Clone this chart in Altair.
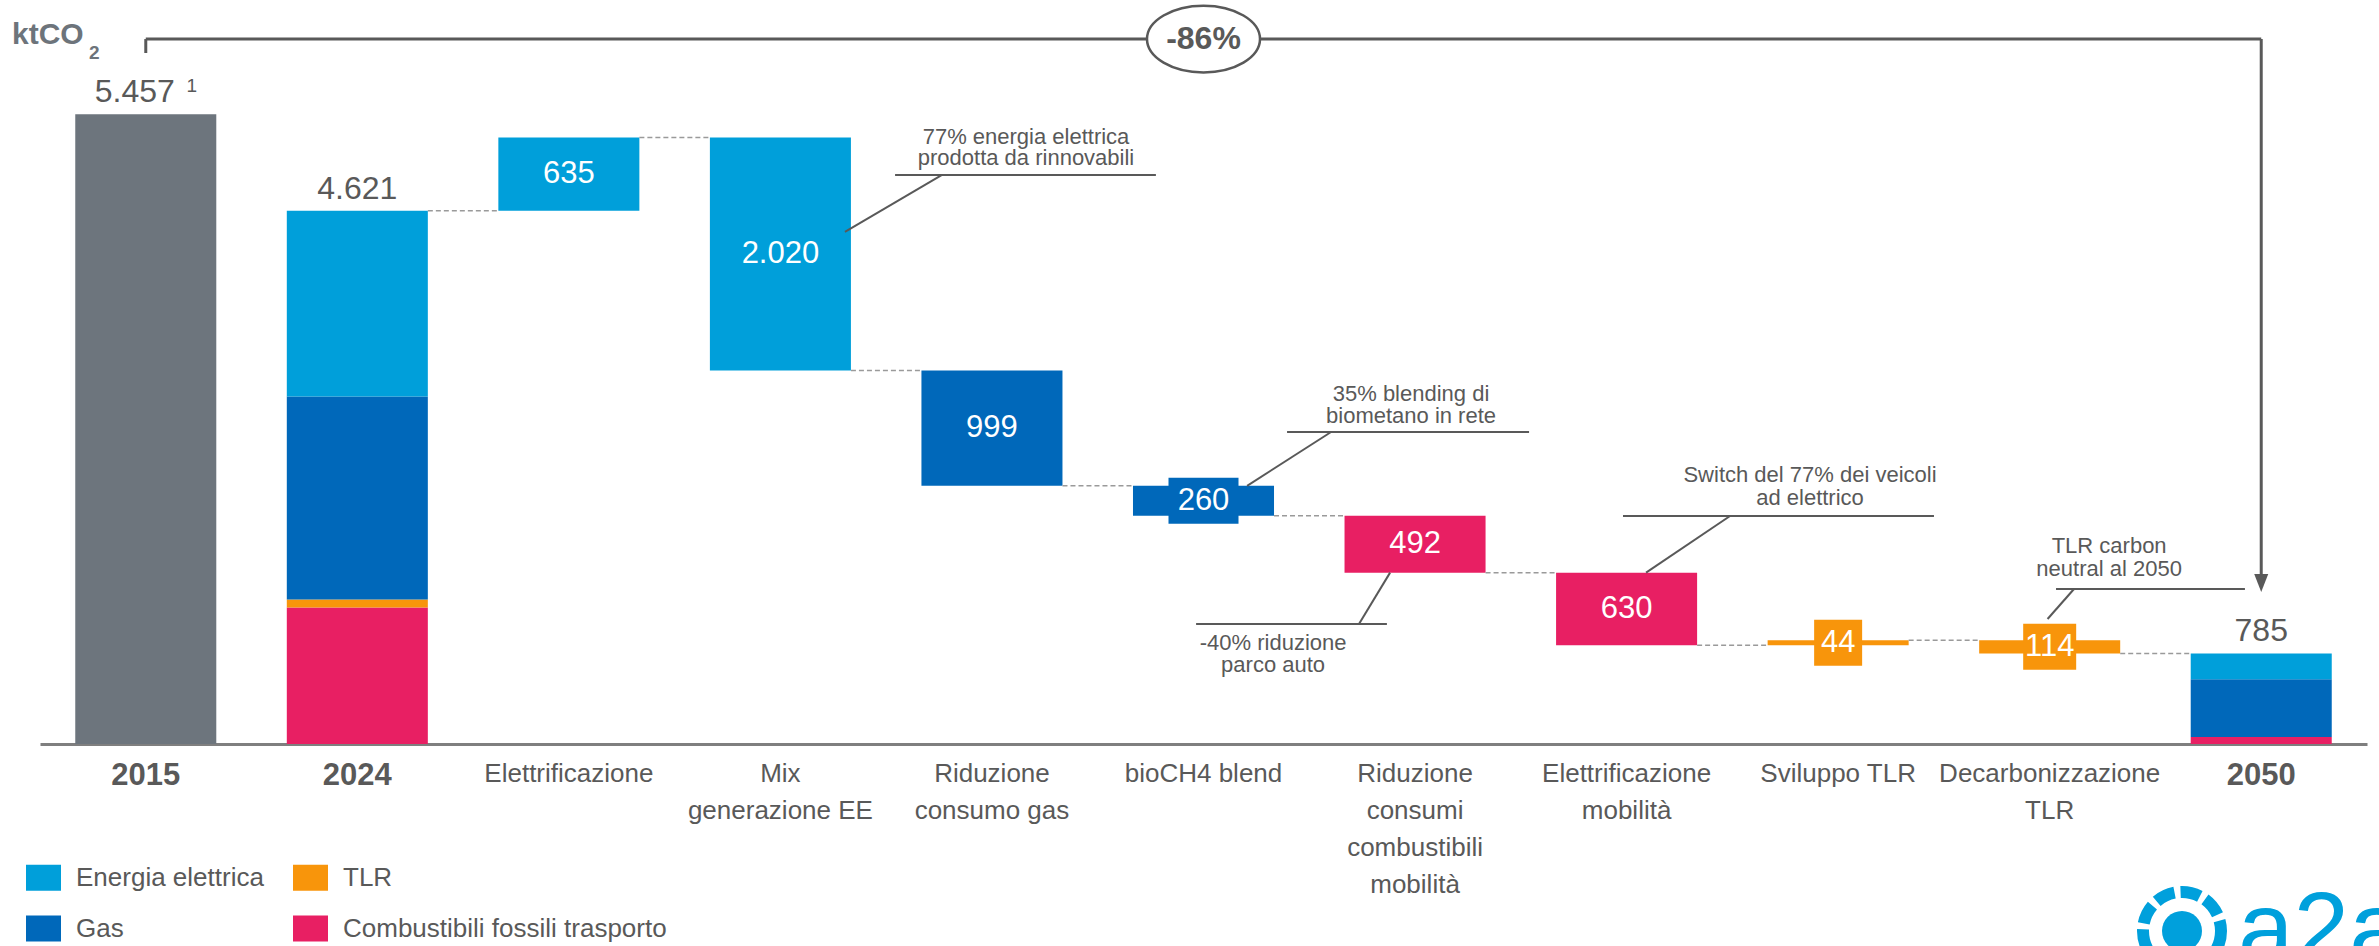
import altair as alt
import pandas as pd

FONT = "Liberation Sans"
GREY_TXT = "#595959"

# ---------------- data ----------------
categories = ["2015", "2024", "Elettrificazione", "Mix|generazione EE", "Riduzione|consumo gas",
              "bioCH4 blend", "Riduzione|consumi|combustibili|mobilità", "Elettrificazione|mobilità",
              "Sviluppo TLR", "Decarbonizzazione|TLR", "2050"]
series = ["Energia elettrica", "Gas", "TLR", "Combustibili fossili trasporto"]
stack_order = ["Combustibili fossili trasporto", "TLR", "Gas", "Energia elettrica"]  # bottom -> top
total_2015 = 5457
comp_2024 = [1609, 1760, 70, 1182]   # same order as `series`
comp_2050 = [224, 501, 0, 60]
step_values = [635, -2020, -999, -260, -492, -630, 44, -114]
step_series = ["Energia elettrica", "Energia elettrica", "Gas", "Gas",
               "Combustibili fossili trasporto", "Combustibili fossili trasporto", "TLR", "TLR"]
boxed_steps = ["bioCH4 blend", "Sviluppo TLR", "Decarbonizzazione|TLR"]
note_texts = [["77% energia elettrica", "prodotta da rinnovabili"],
              ["35% blending  di", "biometano in rete"],
              ["-40% riduzione", "parco auto"],
              ["Switch del 77% dei veicoli", "ad elettrico"],
              ["TLR carbon", "neutral al 2050"]]
reduction_text = "-86%"

# ---------------- styles / layout ----------------
colors = {"Energia elettrica": "#009FDA", "Gas": "#0068BA", "TLR": "#F8950B",
          "Combustibili fossili trasporto": "#E81F63", "Totale 2015": "#6D757D"}
W, H = 2327, 727
YMAX = 6300
HALF = 1 / 3          # half bar width in category-slot units
box_width = {"bioCH4 blend": 70, "Sviluppo TLR": 48, "Decarbonizzazione|TLR": 53}
# annotation layout (slot units on x, value units on y)
note_layout = [
    dict(x=4.661, y=[5260, 5078], under=(4.042, 5.275, 4931), lead=(4.264, 4931, 3.805, 4437)),
    dict(x=6.481, y=[3033, 2842], under=(5.895, 7.039, 2704), lead=(6.103, 2704, 5.706, 2237)),
    dict(x=5.829, y=[875, 685], under=(5.465, 6.367, 1040), lead=(6.235, 1040, 6.382, 1485)),
    dict(x=8.367, y=[2331, 2132], under=(7.483, 8.953, 1976), lead=(7.989, 1976, 7.592, 1485)),
    dict(x=9.781, y=[1716, 1516], under=(9.530, 10.423, 1343), lead=(9.615, 1343, 9.49, 1083)),
]
BRACKET_Y = 6109


def fmt(v):
    return f"{abs(v):,}".replace(",", ".")


# ---------------- build tables ----------------
bars = [dict(cat="2015", y0=0, y1=total_2015, s="Totale 2015")]


def stack(cat, comp):
    vals = dict(zip(series, comp))
    base = 0
    for s in stack_order:
        v = vals[s]
        if v > 0:
            bars.append(dict(cat=cat, y0=base, y1=base + v, s=s))
        base += v
    return base


t24 = stack("2024", comp_2024)
run = t24
levels = [t24]
vlabels = []
for cat, d, s in zip(categories[2:10], step_values, step_series):
    new = run + d
    bars.append(dict(cat=cat, y0=min(run, new), y1=max(run, new), s=s))
    vlabels.append(dict(cat=cat, mid=(run + new) / 2, t=fmt(d)))
    run = new
    levels.append(run)
t50 = stack("2050", comp_2050)

bars_df = pd.DataFrame(bars)
vlab_df = pd.DataFrame(vlabels)
totals_df = pd.DataFrame([dict(cat="2015", top=total_2015, t=fmt(total_2015)),
                          dict(cat="2024", top=t24, t=fmt(t24)),
                          dict(cat="2050", top=t50, t=fmt(t50))])
conn_df = pd.DataFrame([dict(x=i + 1.5 + HALF, x2=i + 2.5 - HALF, y=L) for i, L in enumerate(levels)])

ann_lines = []
ann_txt = []
for lay, txt in zip(note_layout, note_texts):
    ux0, ux1, uy = lay["under"]
    ann_lines.append(dict(x=ux0, x2=ux1, y=uy, y2=uy))
    lx0, ly0, lx1, ly1 = lay["lead"]
    ann_lines.append(dict(x=lx0, x2=lx1, y=ly0, y2=ly1))
    for line, yy in zip(txt, lay["y"]):
        ann_txt.append(dict(x=lay["x"], y=yy, t=line))
ann_lines_df = pd.DataFrame(ann_lines)
ann_txt_df = pd.DataFrame(ann_txt)

x_left, x_right = 0.5, 10.5
bracket_df = pd.DataFrame([
    dict(x=x_left, x2=x_right, y=BRACKET_Y, y2=BRACKET_Y),
    dict(x=x_left, x2=x_left, y=BRACKET_Y, y2=5988),
    dict(x=x_right, x2=x_right, y=BRACKET_Y, y2=1470),
])
arrow_df = pd.DataFrame([dict(x=x_right, y=1395)])
ell_df = pd.DataFrame([dict(x=5.5, y=BRACKET_Y, t=reduction_text)])
one = pd.DataFrame({"a": [0]})

# ---------------- encodings ----------------
yscale = alt.Scale(domain=[0, YMAX], nice=False, zero=True)
year_test = "indexof(['2015','2024','2050'], datum.value) >= 0"
x_nom = alt.X(
    "cat:N",
    scale=alt.Scale(domain=categories, paddingInner=1 / 3, paddingOuter=1 / 6),
    title=None,
    axis=alt.Axis(
        labelAngle=0, ticks=False, tickSize=0, domainColor="#7F7F7F", domainWidth=3,
        labelFont=FONT, labelColor=GREY_TXT, labelPadding=16, labelLineHeight=37,
        labelFontSize={"condition": {"test": year_test, "value": 31}, "value": 26},
        labelFontWeight={"condition": {"test": year_test, "value": "bold"}, "value": "normal"},
        labelExpr="split(datum.label, '|')", labelLimit=500, labelOverlap=False,
        labelBaseline="top",
    ),
)
xq = alt.Scale(domain=[0, 11], nice=False, zero=False)

# legend fills column by column: [EE, Gas] in column 1, [TLR, Combustibili] in column 2
bar_layer = alt.Chart(bars_df).mark_bar().encode(
    x=x_nom,
    y=alt.Y("y0:Q", scale=yscale, axis=None),
    y2="y1:Q",
    color=alt.Color(
        "s:N",
        scale=alt.Scale(domain=list(colors.keys()), range=list(colors.values())),
        legend=alt.Legend(
            values=series, title=None, orient="none", legendX=-14, legendY=843,
            direction="vertical", columns=2, columnPadding=29, rowPadding=20, padding=0,
            symbolType="M-1,-0.74H1V0.74H-1Z", symbolSize=1225, symbolStrokeWidth=0,
            symbolOpacity=1, labelFont=FONT, labelFontSize=26, labelColor=GREY_TXT,
            labelOffset=15, labelLimit=600,
        ),
    ),
)

box_layers = []
for cat in boxed_steps:
    box_layers.append(
        alt.Chart(vlab_df).transform_filter(alt.datum.cat == cat)
        .mark_bar(width=box_width[cat], yOffset=-23, y2Offset=23)
        .encode(x=x_nom, y=alt.Y("mid:Q", scale=yscale, axis=None), y2="mid:Q",
                color=alt.value(colors[step_series[categories.index(cat) - 2]]))
    )

vtext = alt.Chart(vlab_df).mark_text(font=FONT, fontSize=31, color="white", baseline="middle").encode(
    x=x_nom, y=alt.Y("mid:Q", scale=yscale, axis=None), text="t:N")

tot_text = alt.Chart(totals_df).transform_filter(alt.datum.cat != "2015").mark_text(
    font=FONT, fontSize=32, color=GREY_TXT, baseline="alphabetic", dy=-12).encode(
    x=x_nom, y=alt.Y("top:Q", scale=yscale, axis=None), text="t:N")
tot_2015 = alt.Chart(totals_df).transform_filter(alt.datum.cat == "2015").mark_text(
    font=FONT, fontSize=32, color=GREY_TXT, baseline="alphabetic", dy=-12, dx=-11).encode(
    x=x_nom, y=alt.Y("top:Q", scale=yscale, axis=None), text="t:N")
sup_text = alt.Chart(totals_df).transform_filter(alt.datum.cat == "2015").mark_text(
    font=FONT, fontSize=19, color=GREY_TXT, baseline="alphabetic", dx=46, dy=-22).encode(
    x=x_nom, y=alt.Y("top:Q", scale=yscale, axis=None), text=alt.value("1"))

nominal = alt.layer(bar_layer, *box_layers, vtext, tot_text, tot_2015, sup_text)

# ---------------- quantitative-x overlay ----------------
conn = alt.Chart(conn_df).mark_rule(color="#9A9A9A", strokeWidth=1.5, strokeDash=[5, 3]).encode(
    x=alt.X("x:Q", scale=xq, axis=None), x2="x2:Q",
    y=alt.Y("y:Q", scale=yscale, axis=None))

alines = alt.Chart(ann_lines_df).mark_rule(color=GREY_TXT, strokeWidth=2).encode(
    x=alt.X("x:Q", scale=xq, axis=None), x2="x2:Q",
    y=alt.Y("y:Q", scale=yscale, axis=None), y2="y2:Q")

atext = alt.Chart(ann_txt_df).mark_text(font=FONT, fontSize=22, color=GREY_TXT, baseline="middle").encode(
    x=alt.X("x:Q", scale=xq, axis=None), y=alt.Y("y:Q", scale=yscale, axis=None), text="t:N")

bracket = alt.Chart(bracket_df).mark_rule(color=GREY_TXT, strokeWidth=3).encode(
    x=alt.X("x:Q", scale=xq, axis=None), x2="x2:Q",
    y=alt.Y("y:Q", scale=yscale, axis=None), y2="y2:Q")

arrow = alt.Chart(arrow_df).mark_point(
    shape="M-0.78,-1L0.78,-1L0,1Z", size=324, filled=True, color=GREY_TXT, opacity=1).encode(
    x=alt.X("x:Q", scale=xq, axis=None), y=alt.Y("y:Q", scale=yscale, axis=None))

ellipse_path = ("M-1,0C-1,-0.326,-0.552,-0.59,0,-0.59C0.552,-0.59,1,-0.326,1,0"
                "C1,0.326,0.552,0.59,0,0.59C-0.552,0.59,-1,0.326,-1,0Z")
ellipse = alt.Chart(ell_df).mark_point(
    shape=ellipse_path, size=12769, filled=True, fill="white", stroke=GREY_TXT,
    strokeWidth=2.5, opacity=1, fillOpacity=1, strokeOpacity=1).encode(
    x=alt.X("x:Q", scale=xq, axis=None), y=alt.Y("y:Q", scale=yscale, axis=None))

pct = alt.Chart(ell_df).mark_text(font=FONT, fontSize=32, fontWeight="bold", color=GREY_TXT,
                                  baseline="middle").encode(
    x=alt.X("x:Q", scale=xq, axis=None), y=alt.Y("y:Q", scale=yscale, axis=None), text="t:N")

unit_main = alt.Chart(one).mark_text(font=FONT, fontSize=30, fontWeight="bold", color="#6D747B",
                                     align="left", baseline="alphabetic").encode(
    x=alt.value(-28), y=alt.value(27), text=alt.value("ktCO"))
unit_sub = alt.Chart(one).mark_text(font=FONT, fontSize=19, fontWeight="bold", color="#6D747B",
                                    align="left", baseline="alphabetic").encode(
    x=alt.value(49), y=alt.value(42), text=alt.value("2"))

logo_ring = alt.Chart(one).mark_point(shape="circle", size=6084, filled=False, color="#00A0DC",
                                      strokeWidth=12, strokeDash=[20, 6], opacity=1).encode(
    x=alt.value(2142), y=alt.value(914))
logo_core = alt.Chart(one).mark_point(shape="circle", size=1600, filled=True, color="#00A0DC",
                                      opacity=1).encode(x=alt.value(2142), y=alt.value(914))
logo_text = alt.Chart(one).mark_text(font=FONT, fontSize=100, color="#00A0DC", align="left",
                                     baseline="alphabetic").encode(
    x=alt.value(2198), y=alt.value(945), text=alt.value("a2a"))

quant = alt.layer(conn, alines, atext, bracket, arrow, ellipse, pct,
                  unit_main, unit_sub, logo_ring, logo_core, logo_text)

chart = alt.layer(nominal, quant).resolve_scale(x="independent").properties(
    width=W, height=H,
    padding={"left": 40, "top": 17, "right": 12, "bottom": 202},
    autosize=alt.AutoSizeParams(type="none"),
    background="white",
).configure_view(stroke=None)

chart.save("out.html", embed_options={"renderer": "svg", "actions": False})
